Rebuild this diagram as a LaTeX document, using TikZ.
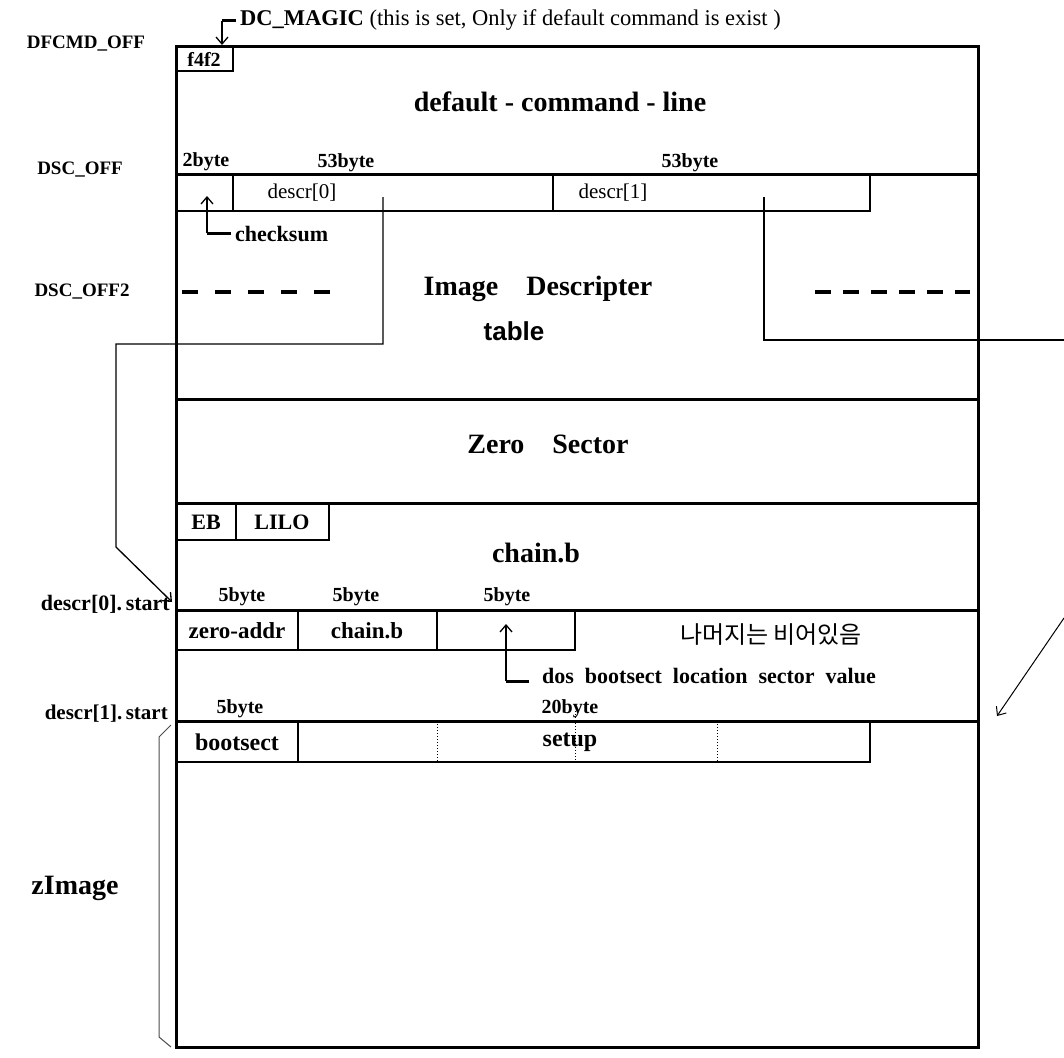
\documentclass[tikz,border=0pt]{standalone}
\usepackage{fontspec}
\setmainfont{Liberation Serif}
\newfontfamily\korfont{Noto Sans CJK KR}
\newfontfamily\lsansfont{Liberation Sans}
\usetikzlibrary{arrows.meta}
\newcommand\fsz[1]{\fontsize{#1}{#1}\selectfont}
\begin{document}
\begin{tikzpicture}[x=1pt,y=-1pt,
  heavy/.style={line width=3pt},
  fine/.style={line width=1.3pt},
  dotline/.style={line width=1pt, dotted},
  arr/.style={-{Straight Barb[length=7pt,width=12pt]}, line width=1.3pt},
  bar/.style={line width=3pt},
  dashthick/.style={line width=3.5pt, dash pattern=on 16pt off 12pt},
  big/.style={font=\fsz{28}\bfseries, inner sep=0pt},
  side/.style={font=\fsz{19}\bfseries, inner sep=0pt},
  sz/.style={font=\fsz{20}\bfseries, inner sep=0pt},
  cell/.style={font=\fsz{22}\bfseries, inner sep=0pt},
  reg/.style={font=\fsz{21}, inner sep=0pt},
]
\useasboundingbox (0,0) rectangle (1064,1057);
\fill[white] (0,0) rectangle (1064,1057);

% ---------- structure ----------
\draw[heavy] (176,47) rectangle (978,1047);
\foreach \yy in {174,399,503,610,721} \draw[heavy] (176,\yy) -- (978,\yy);

% f4f2 box
\draw[fine] (176,71) -- (233,71) -- (233,47);
\node[cell, font=\fsz{20}\bfseries] (f4f2) at (204,59) {f4f2};

% descriptor row
\draw[fine] (176,211) -- (870,211) -- (870,174);
\draw[fine] (233,174) -- (233,211);
\draw[fine] (553,174) -- (553,211);

% dashed lines
\draw[dashthick, dash pattern=on 16pt off 17pt] (182,292) -- (332,292);
\draw[dashthick] (815,292) -- (970,292);

% EB / LILO
\draw[fine] (176,540) -- (329,540) -- (329,503);
\draw[fine] (236,503) -- (236,540);

% chain row
\draw[fine] (176,650) -- (575,650) -- (575,610);
\draw[fine] (298,610) -- (298,650);
\draw[fine] (437,610) -- (437,650);

% zImage row
\draw[fine] (176,762) -- (870,762) -- (870,721);
\draw[fine] (298,721) -- (298,762);
\draw[dotline] (437,721) -- (437,762);
\draw[dotline] (575,711) -- (575,762);
\draw[dotline] (717,721) -- (717,762);

% zImage brace
\draw[line width=1pt, black!70] (171,725) -- (159,737) -- (159,1037) -- (171,1047);

% ---------- texts ----------
\node[side] (dfcmd) at (86,44) {DFCMD\_OFF};
\node[side] (dscoff) at (80,170) {DSC\_OFF};
\node[side] (dscoff2) at (82,292) {DSC\_OFF2};
\node[side, font=\fsz{22}\bfseries, anchor=east] (d0start) at (170,604) {descr[0].\,start};
\node[side, font=\fsz{21}\bfseries, anchor=east] (d1start) at (168,714) {descr[1].\,start};
\node[font=\fsz{28}\bfseries, inner sep=0pt] (zimage) at (75,888) {zImage};

\node[anchor=west, inner sep=0pt, font=\fsz{22.5}] (dcmagic) at (240,20)
  {\textbf{DC\_MAGIC} (this is set, Only if default command is exist )};

\node[big] (dcl) at (560,102) {default - command - line};
\node[sz] (b2) at (206,162) {2byte};
\node[sz] (b53a) at (346,163) {53byte};
\node[sz] (b53b) at (690,163) {53byte};
\node[reg] (descr0) at (302,193) {descr[0]};
\node[reg] (descr1) at (613,193) {descr[1]};
\node[font=\fsz{22}\bfseries, inner sep=0pt, anchor=west] (chk) at (235,234) {checksum};

\node[big] (imgdesc) at (538,289) {Image\ \ \ \ Descripter};
\node[font=\lsansfont\fsz{26}\bfseries, inner sep=0pt] (table) at (514,331) {table};
\node[big] (zero) at (548,444) {Zero\ \ \ \ Sector};
\node[cell] (eb) at (206,522) {EB};
\node[cell] (lilo) at (282,522) {LILO};
\node[big] (chainb) at (536,553) {chain.b};

\node[sz] (s1) at (242,597) {5byte};
\node[sz] (s2) at (356,597) {5byte};
\node[sz] (s3) at (507,597) {5byte};
\node[cell, font=\fsz{23}\bfseries] (zaddr) at (237,631) {zero-addr};
\node[cell, font=\fsz{23}\bfseries] (chb) at (367,631) {chain.b};
\node[font=\korfont\fsz{24}, inner sep=0pt] (kor) at (771,635) {나머지는 비어있음};
\node[anchor=west, inner sep=0pt, font=\fsz{22}\bfseries] (dos) at (542,676) {dos\ \ bootsect\ \ location\ \ sector\ \ value};

\node[sz] (s4) at (240,709) {5byte};
\node[sz] (s5) at (570,709) {20byte};
\node[cell, font=\fsz{24}\bfseries] (bootsect) at (237,742) {bootsect};
\node[cell, font=\fsz{24}\bfseries] (setup) at (570,742) {setup};

% ---------- connectors ----------
% DC_MAGIC
\coordinate (mg0) at (236,21);
\coordinate (mg1) at (222,21);
\coordinate (mg2) at (222,45);
\draw[bar] (mg0) -- (mg1);
\draw[arr] (mg1) -- (mg2);

% checksum
\coordinate (ck0) at (231,233);
\coordinate (ck1) at (207,233);
\coordinate (ck2) at (207,196);
\draw[bar] (ck0) -- (ck1);
\draw[arr] (ck1) -- (ck2);

% dos bootsect
\coordinate (ds0) at (529,681);
\coordinate (ds1) at (506,681);
\coordinate (ds2) at (506,624);
\draw[bar] (ds0) -- (ds1);
\draw[arr] (ds1) -- (ds2);

% descr[0] -> descr[0].start
\coordinate (d0a) at (383,197);
\coordinate (d0b) at (383,344);
\coordinate (d0c) at (116,344);
\coordinate (d0d) at (116,547);
\coordinate (d0e) at (172,602);
\draw[arr] (d0a) -- (d0b) -- (d0c) -- (d0d) -- (d0e);

% descr[1] -> descr[1].start
\coordinate (d1a) at (764,197);
\coordinate (d1b) at (764,340);
\coordinate (d1c) at (1064,340);
\draw[fine] (d1a) -- (d1b) -- (d1c);
\coordinate (d1d) at (1064,618);
\coordinate (d1e) at (997,716);
\draw[arr, line width=1pt] (d1d) -- (d1e);
\end{tikzpicture}
\end{document}
